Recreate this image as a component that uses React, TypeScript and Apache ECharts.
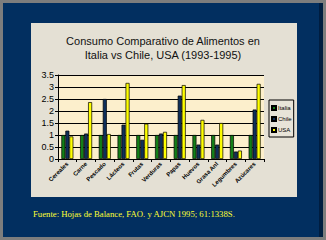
import React, { useEffect, useRef } from "react";
import * as echarts from "echarts";

const categories = ["Cereales", "Carne", "Pescado", "Lácteos", "Frutas", "Verduras", "Papas", "Huevos", "Grasa Anl", "Legumbres", "Azúcares"];
const italia = [1, 1, 1, 1, 1, 1, 1, 1, 1, 1, 1];
const chile = [1.18, 1.06, 2.5, 1.43, 0.8, 1.06, 2.64, 0.6, 0.6, 0.31, 2.06];
const usa = [0.94, 2.37, 1.04, 3.17, 1.47, 1.13, 3.08, 1.63, 1.5, 0.35, 3.13];
const yTicks = { min: 0, max: 3.5, interval: 0.5 };
const titleText = "Consumo Comparativo de Alimentos en\nItalia vs Chile, USA (1993-1995)";
const footText = "Fuente: Hojas de Balance, FAO. y AJCN 1995; 61:1338S.";

export default function App() {
  const ref = useRef<HTMLDivElement>(null);
  useEffect(() => {
    if (!ref.current) return;
    const chart = echarts.init(ref.current, undefined, { renderer: "svg" });
    const barStyle = (c: string) => ({ color: c, borderColor: "#000", borderWidth: 0.7 });
    chart.setOption({
      animation: false,
      backgroundColor: "#7d7d7d",
      graphic: [
        { type: "rect", z: -10, shape: { x: 3, y: 3, width: 320, height: 234 }, style: { fill: "#022f60" } },
        { type: "rect", z: -10, shape: { x: 319, y: 3, width: 4, height: 234 }, style: { fill: "#001d40" } },
        { type: "rect", z: -10, shape: { x: 31, y: 23, width: 266, height: 174 }, style: { fill: "#e4e0d4" } },
        { type: "text", left: 33, top: 209, style: { text: footText, fill: "#ffff33", font: "8.7px 'Liberation Serif', serif" } },
      ],
      title: {
        text: titleText,
        left: "center",
        top: 29,
        textStyle: { fontSize: 11, fontWeight: "normal", color: "#111", fontFamily: "Arial, 'Liberation Sans', sans-serif", lineHeight: 14 },
      },
      legend: {
        orient: "vertical",
        left: 269,
        top: 100,
        itemWidth: 4,
        itemHeight: 4,
        itemGap: 5,
        padding: [5, 2, 4, 2],
        borderColor: "#000",
        borderWidth: 1,
        backgroundColor: "#e8e4d8",
        icon: "rect",
        textStyle: { fontSize: 6, color: "#000", fontFamily: "Arial, sans-serif", padding: [0, 0, 0, -3] },
        data: ["Italia", "Chile", "USA"],
      },
      grid: { left: 58, top: 75, width: 206, height: 84, show: true, backgroundColor: "#fcefcc", borderWidth: 0 },
      xAxis: {
        type: "category",
        data: categories,
        axisLine: { lineStyle: { color: "#000", width: 1 } },
        axisTick: { show: true, length: 3, lineStyle: { color: "#000" } },
        axisLabel: { rotate: 45, fontSize: 6, fontWeight: "bold", color: "#000", fontFamily: "Arial, sans-serif", margin: 4, interval: 0 },
      },
      yAxis: {
        type: "value",
        min: yTicks.min,
        max: yTicks.max,
        interval: yTicks.interval,
        axisLine: { show: true, lineStyle: { color: "#000", width: 1 } },
        axisTick: { show: true, length: 3, lineStyle: { color: "#000" } },
        splitLine: { lineStyle: { color: "#000", width: 1 } },
        axisLabel: { fontSize: 9, color: "#000", fontFamily: "Arial, sans-serif", margin: 4 },
      },
      series: [
        { name: "Italia", type: "bar", data: italia, barWidth: 4, barGap: "0%", itemStyle: barStyle("#137f17") },
        { name: "Chile", type: "bar", data: chile, barWidth: 4, barGap: "0%", itemStyle: barStyle("#0e2f5a") },
        { name: "USA", type: "bar", data: usa, barWidth: 4, barGap: "0%", itemStyle: barStyle("#ffff00") },
      ],
    });
    return () => chart.dispose();
  }, []);
  return <div ref={ref} style={{ position: "fixed", left: 0, top: 0, width: 326, height: 240 }} />;
}
